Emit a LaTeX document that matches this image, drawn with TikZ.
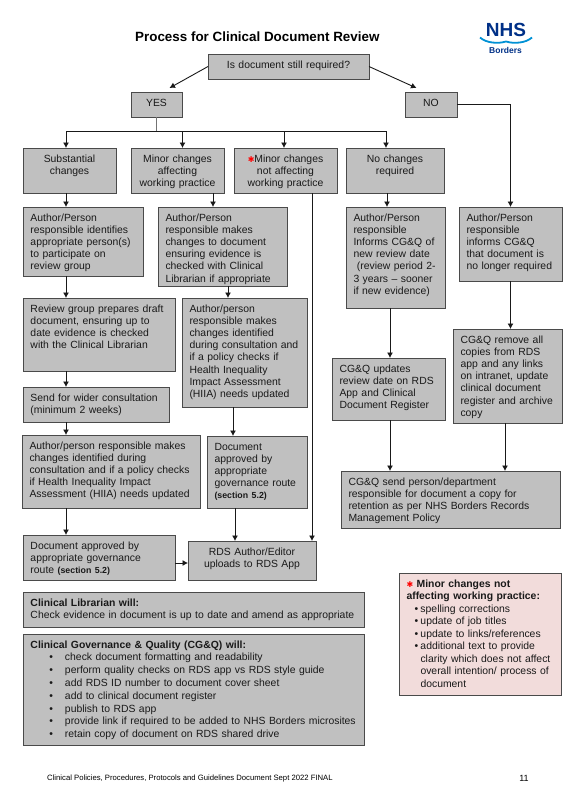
\documentclass[tikz,border=0pt]{standalone}
\usepackage{fontspec}
\usepackage{tikz}
\usetikzlibrary{arrows.meta}
\setmainfont{Liberation Sans}
\newfontfamily\symfont{DejaVu Sans}
\definecolor{boxgray}{HTML}{C0C0C0}
\definecolor{edgegray}{HTML}{4A4A4A}
\definecolor{notepink}{HTML}{F2DCDB}
\definecolor{nhsnavy}{HTML}{003087}
\definecolor{nhswave}{HTML}{0091D5}
\newcommand{\redstar}{\textcolor{red}{\symfont\fontsize{8}{8}\selectfont ✱}}
\newcommand{\sectionnote}{{\fontsize{8.8}{12}\selectfont\bfseries (section 5.2)}}
\newcommand{\itemline}[3]{\mbox{\makebox[#2pt][l]{\hspace{#1pt}\textbullet}#3}}

\begin{document}
\begin{tikzpicture}[x=1pt, y=-1pt,
		boxsize/.code 2 args={\pgfmathsetmacro\boxtw{#1-15}\pgfmathsetmacro\boxtd{#2-19}\tikzset{minimum width=#1pt, text width=\boxtw pt, text depth=\boxtd pt}},
		flowbox/.style={draw=edgegray, fill=boxgray, line width=0.9pt, rectangle, anchor=north west, outer sep=0pt, inner xsep=7.5pt, inner ysep=5pt, text height=9pt, align=left, text=black!90, font=\fontsize{10.4}{12.2}\selectfont},
		midbox/.style={flowbox, align=center},
		flowarrow/.style={-{Latex[length=5.5pt, width=6pt]}, line width=0.9pt, draw=black!90}
	]
	\useasboundingbox (0, 0) rectangle (569, 798);
	% Draw title and logo
	\node[font=\bfseries\fontsize{13.4}{15}\selectfont, anchor=west, inner sep=0pt] (title) at (135, 37) {Process for Clinical Document Review};
	\node[font=\bfseries\fontsize{19}{20}\selectfont, text=nhsnavy, inner sep=0pt] (logoname) at (506, 30) {NHS};
	\node[font=\bfseries\fontsize{8.5}{9}\selectfont, text=nhsnavy, inner sep=0pt] (logoplace) at (505.5, 50) {Borders};
	\draw[nhswave, line width=1.8pt] (480, 37.5) .. controls (486, 43) and (498, 44) .. (506, 41.5) .. controls (514, 44) and (526, 43) .. (532, 37.5);
	
	% Top of the tree
	\node[midbox, boxsize={161}{25}] (required) at (208, 54) {Is document still required?};
	\node[midbox, boxsize={51}{25}] (yes) at (131, 92) {YES};
	\node[midbox, boxsize={52}{25}] (no) at (405, 92) {NO};
	\node[midbox, boxsize={93}{45}] (substantial) at (23, 148) {Substantial\\changes};
	\node[midbox, boxsize={93}{45}] (minoraff) at (131, 148) {Minor changes\\affecting\\working practice};
	\node[midbox, boxsize={103}{45}] (minornot) at (234, 148) {\redstar Minor changes\\not affecting\\working practice};
	\node[midbox, boxsize={98}{45}] (nochange) at (346, 148) {No changes\\required};
	
	% Left hand column
	\node[flowbox, boxsize={120}{69}] (identify) at (23, 207) {Author/Person\\responsible identifies\\appropriate person(s)\\to participate on\\review group};
	\node[flowbox, boxsize={152}{73}] (draft) at (23, 298) {Review group prepares draft\\document, ensuring up to\\date evidence is checked\\with the Clinical Librarian};
	\node[flowbox, boxsize={146}{35}] (consult) at (23, 387) {Send for wider consultation\\(minimum 2 weeks)};
	\node[flowbox, boxsize={178}{73}] (changesA) at (22, 435) {Author/person responsible makes\\changes identified during\\consultation and if a policy checks\\if Health Inequality Impact\\Assessment (HIIA) needs updated};
	\node[flowbox, boxsize={152}{45}] (approveA) at (23, 535) {Document approved by\\appropriate governance\\route \sectionnote};
	
	% Middle column
	\node[flowbox, boxsize={129}{79}] (makes) at (158, 207) {Author/Person\\responsible makes\\changes to document\\ensuring evidence is\\checked with Clinical\\Librarian if appropriate};
	\node[flowbox, boxsize={125}{109}] (changesB) at (182, 298) {Author/person\\responsible makes\\changes identified\\during~consultation~and\\if a policy checks if\\Health Inequality\\Impact Assessment\\(HIIA) needs updated};
	\node[flowbox, boxsize={100}{72}] (approveB) at (207, 436) {Document\\approved by\\appropriate\\governance route\\\sectionnote};
	\node[midbox, boxsize={128}{39}] (upload) at (188, 541) {RDS Author/Editor\\uploads to RDS App};
	
	% Right hand columns
	\node[flowbox, boxsize={99}{101}] (informs) at (346, 207) {Author/Person\\responsible\\Informs CG\&Q of\\new review date\\\ (review period 2-\\3 years -- sooner\\if new evidence)};
	\node[flowbox, boxsize={113}{62}] (updates) at (332, 358) {CG\&Q updates\\review date on RDS\\App and Clinical\\Document Register};
	\node[flowbox, boxsize={103}{74}] (informsno) at (459, 207) {Author/Person\\responsible\\informs CG\&Q\\that document is\\no longer required};
	\node[flowbox, boxsize={109}{94}] (remove) at (453, 329) {CG\&Q remove all\\copies from RDS\\app and any links\\on intranet, update\\clinical document\\register and archive\\copy};
	\node[flowbox, boxsize={219}{57}] (retain) at (341, 471) {CG\&Q send person/department\\responsible for document a copy for\\retention as per NHS Borders Records\\Management Policy};
	
	% Notes at the bottom
	\node[flowbox, boxsize={341}{35}] (librarian) at (23, 592) {\textbf{Clinical Librarian will:}\\\mbox{Check evidence in document is up to date and amend as appropriate}};
	\node[flowbox, boxsize={341}{111}, font=\fontsize{10.4}{12.8}\selectfont] (governance) at (23, 634) {\textbf{Clinical Governance \& Quality (CG\&Q) will:}\\
		\itemline{19}{34.5}{check document formatting and readability}\\
		\itemline{19}{34.5}{perform quality checks on RDS app vs RDS style guide}\\
		\itemline{19}{34.5}{add RDS ID number to document cover sheet}\\
		\itemline{19}{34.5}{add to clinical document register}\\
		\itemline{19}{34.5}{publish to RDS app}\\
		\itemline{19}{34.5}{provide link if required to be added to NHS Borders microsites}\\
		\itemline{19}{34.5}{retain copy of document on RDS shared drive}};
	\node[flowbox, boxsize={162}{122}, fill=notepink, font=\fontsize{10.4}{12.5}\selectfont] (minornote) at (399, 573) {\redstar\ \textbf{Minor changes not}\\\textbf{affecting working practice:}\\
		\itemline{8}{14}{spelling corrections}\\
		\itemline{8}{14}{update of job titles}\\
		\itemline{8}{14}{update to links/references}\\
		\itemline{8}{14}{additional text to provide}\\
		\hspace*{14pt}clarity which does not affect\\
		\hspace*{14pt}overall intention/ process of\\
		\hspace*{14pt}document};
	
	% Footer
	\node[font=\fontsize{7.7}{9}\selectfont, anchor=west, inner sep=0pt] (footer) at (47, 778) {Clinical Policies, Procedures, Protocols and Guidelines Document Sept 2022 FINAL};
	\node[font=\fontsize{9}{10}\selectfont, inner sep=0pt] (pageno) at (524, 778) {11};
	
	% Arrows out of the question
	\coordinate (yestip) at (169.5, 88);
	\coordinate (notip) at (416.5, 88);
	\draw[flowarrow] (required.west) -- (yestip);
	\draw[flowarrow] (required.east) -- (notip);
	
	% Branch below YES
	\coordinate (branch) at (156, 131);
	\draw[line width=0.9pt, draw=black!55] (yes.south -| branch) -- (branch);
	\draw[flowarrow] (branch) -| ([xshift=-3.5pt]substantial.north);
	\draw[flowarrow] (branch) -| ([xshift=5pt]minoraff.north);
	\draw[flowarrow] (branch) -| ([xshift=-1.5pt]minornot.north);
	\draw[flowarrow] (branch) -| ([xshift=-9pt]nochange.north);
	
	% Branch out of NO
	\draw[flowarrow] (no.east) -| (informsno.north);
	
	% Down the columns
	\draw[flowarrow] ([xshift=-3.5pt]substantial.south) -- ([xshift=-17pt]identify.north);
	\draw[flowarrow] ([xshift=-17pt]identify.south) -- ([xshift=-33pt]draft.north);
	\draw[flowarrow] ([xshift=-33pt]draft.south) -- ([xshift=-30pt]consult.north);
	\draw[flowarrow] ([xshift=-30pt]consult.south) -- ([xshift=-45pt]changesA.north);
	\draw[flowarrow] ([xshift=-45pt]changesA.south) -- ([xshift=-33pt]approveA.north);
	\draw[flowarrow] ([yshift=-5.5pt]approveA.east) -- ([yshift=-2.5pt]upload.west);
	\draw[flowarrow] ([xshift=35.5pt]minoraff.south) -- ([xshift=-9.5pt]makes.north);
	\draw[flowarrow] ([xshift=5.5pt]makes.south) -- ([xshift=-16.5pt]changesB.north);
	\draw[flowarrow] ([xshift=-11.5pt]changesB.south) -- ([xshift=-24pt]approveB.north);
	\draw[flowarrow] ([xshift=-22pt]approveB.south) -- ([xshift=-17pt]upload.north);
	\draw[flowarrow] ([xshift=26.5pt]minornot.south) -- ([xshift=60pt]upload.north);
	\draw[flowarrow] ([xshift=-8pt]nochange.south) -- ([xshift=-8.5pt]informs.north);
	\draw[flowarrow] ([xshift=-5.5pt]informs.south) -- ([xshift=1.5pt]updates.north);
	\draw[flowarrow] (informsno.south) -- ([xshift=3pt]remove.north);
	\draw[flowarrow] ([xshift=1.5pt]updates.south) -- ([xshift=-60.5pt]retain.north);
	\draw[flowarrow] ([xshift=-2.5pt]remove.south) -- ([xshift=54.5pt]retain.north);
\end{tikzpicture}
\end{document}
